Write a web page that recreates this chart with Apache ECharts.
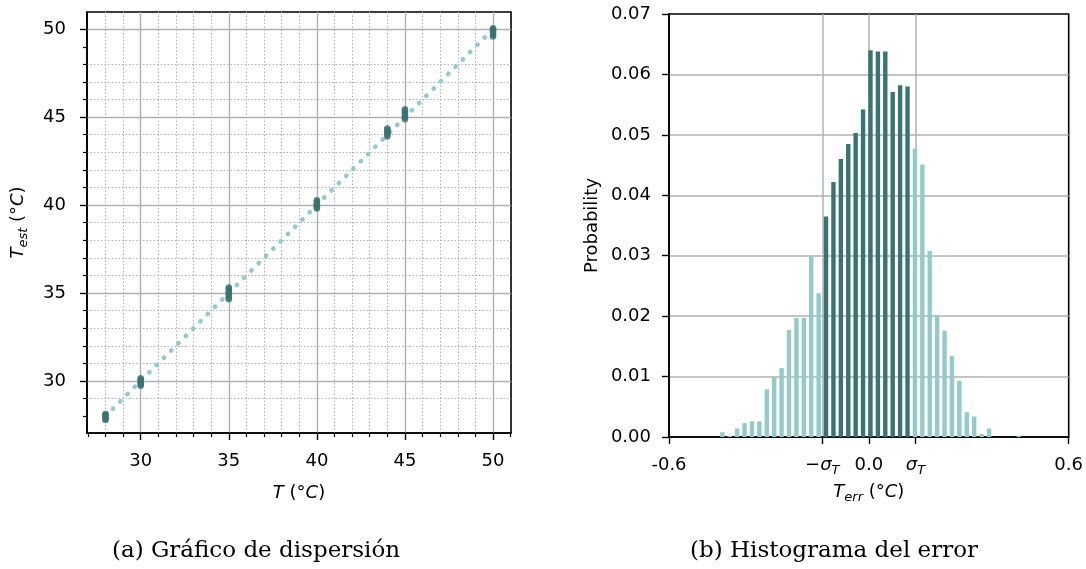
<!DOCTYPE html>
<html>
<head>
<meta charset="utf-8">
<script src="https://cdn.jsdelivr.net/npm/echarts@6/dist/echarts.min.js"></script>
<style>
  html, body { margin: 0; padding: 0; background: #ffffff; }
  #chart { width: 1086px; height: 569px; }
</style>
</head>
<body>
<div id="chart"></div>
<script>
// ---- (a) scatter: set temperature vs. estimated temperature ----
const setTemps = [28, 30, 35, 40, 44, 45, 50];
const estimates = [
  [27.78, 27.84, 27.90, 27.96, 28.02, 28.08, 28.12],
  [29.72, 29.80, 29.87, 29.94, 30.01, 30.08, 30.16],
  [34.65, 34.75, 34.85, 34.95, 35.05, 35.15, 35.24, 35.32],
  [39.80, 39.88, 39.96, 40.04, 40.12, 40.20, 40.28],
  [43.90, 43.98, 44.06, 44.14, 44.22, 44.30, 44.35],
  [44.88, 44.98, 45.08, 45.18, 45.28, 45.37, 45.45],
  [49.58, 49.67, 49.76, 49.85, 49.93, 50.00, 50.05]
];
const idealLine = [[28, 28], [50, 50]];
const tempRangeX = [26.95, 51.02];
const tempRangeY = [27.04, 50.98];
const tempMajorTicks = [30, 35, 40, 45, 50];
const tempMinorTicksX = [27, 28, 29, 31, 32, 33, 34, 36, 37, 38, 39, 41, 42, 43, 44, 46, 47, 48, 49, 51];
const tempMinorTicksY = [28, 29, 31, 32, 33, 34, 36, 37, 38, 39, 41, 42, 43, 44, 46, 47, 48, 49];

// ---- (b) histogram of the estimation error ----
const BIN_START = -0.4510;   // left edge of first bin (°C)
const BIN_WIDTH = 0.02224;   // bin width (°C)
const binProbability = [
  0.0008, 0.0002, 0.0014, 0.0023, 0.0026, 0.0026, 0.0079, 0.0099, 0.0114, 0.0177,
  0.0197, 0.0197, 0.0300, 0.0238, 0.0365, 0.0422, 0.0460, 0.0485, 0.0503, 0.0542,
  0.0640, 0.0638, 0.0638, 0.0571, 0.0582, 0.0580, 0.0477, 0.0451, 0.0308, 0.0202,
  0.0176, 0.0134, 0.0093, 0.0041, 0.0034, 0.0005, 0.0014, 0, 0, 0, 0.0002
];
const SIGMA = 0.1398;        // standard deviation of the error (°C)
const errRange = [-0.6, 0.6];
const errTicks = [-0.6, -SIGMA, 0, SIGMA, 0.6];
const probTicks = [0, 0.01, 0.02, 0.03, 0.04, 0.05, 0.06, 0.07];

const DARK = '#3b7272';
const LIGHT = '#94caca';
const GRID_GRAY = '#b0b0b0';
const SANS = 'DejaVu Sans';
const SERIF = 'DejaVu Serif';

const scatterPoints = [];
setTemps.forEach((t, i) => estimates[i].forEach(v => scatterPoints.push([t, v])));

const binEdges = binProbability.map((_, k) => [BIN_START + k * BIN_WIDTH, BIN_START + (k + 1) * BIN_WIDTH]);
const histData = binProbability.map((p, k) => [(binEdges[k][0] + binEdges[k][1]) / 2, p]);
const insideSigma = k => binEdges[k][0] >= -SIGMA - 1e-9 && binEdges[k][1] <= SIGMA + 1e-9;

const mathRich = {
  r:   { fontFamily: SANS, fontSize: 18, color: '#000', lineHeight: 24 },
  it:  { fontFamily: SANS, fontSize: 18, fontStyle: 'italic', color: '#000', lineHeight: 24 },
  sub: { fontFamily: SANS, fontSize: 13, fontStyle: 'italic', color: '#000', lineHeight: 14, verticalAlign: 'bottom' }
};

function errLabel(v) {
  if (Math.abs(v + SIGMA) < 1e-9) return '{r|−}{it|σ}{sub|T}';
  if (Math.abs(v - SIGMA) < 1e-9) return '{it|σ}{sub|T}';
  if (Math.abs(v) < 1e-9) return '{r|0.0}';
  return '{r|' + (v < 0 ? '-' : '') + Math.abs(v).toFixed(1) + '}';
}

const frame = { show: true, onZero: false, lineStyle: { color: '#000', width: 1.6 } };
const tickStyle = { color: '#000', width: 1.4 };

const option = {
  backgroundColor: '#ffffff',
  animation: false,
  grid: [
    { left: 87, top: 12, width: 424, height: 421, show: true, borderColor: '#000', borderWidth: 1.6, backgroundColor: 'transparent' },
    { left: 669, top: 14, width: 401, height: 423, show: true, borderColor: '#000', borderWidth: 1.6, backgroundColor: 'transparent' }
  ],
  xAxis: [
    { // (a) major
      type: 'value', gridIndex: 0, min: tempRangeX[0], max: tempRangeX[1], position: 'bottom',
      axisLine: frame,
      axisTick: { show: true, inside: false, length: 7, lineStyle: tickStyle, customValues: tempMajorTicks },
      axisLabel: { customValues: tempMajorTicks, fontFamily: SANS, fontSize: 18, color: '#000', margin: 19 },
      splitLine: { show: true, lineStyle: { color: GRID_GRAY, width: 1.4 } },
      name: '{it|T}{r| (°}{it|C}{r|)}', nameLocation: 'middle', nameGap: 48,
      nameTextStyle: { rich: mathRich }
    },
    { // (a) minor
      type: 'value', gridIndex: 0, min: tempRangeX[0], max: tempRangeX[1], position: 'bottom',
      axisLine: { show: false, onZero: false },
      axisTick: { show: true, inside: false, length: 4, lineStyle: { color: '#000', width: 1.2 }, customValues: tempMinorTicksX },
      axisLabel: { show: false },
      splitLine: { show: true, showMinLine: false, showMaxLine: false, lineStyle: { color: GRID_GRAY, width: 1, type: [1.5, 2] } }
    },
    { // (b)
      type: 'value', gridIndex: 1, min: errRange[0], max: errRange[1], position: 'bottom',
      axisLine: frame,
      axisTick: { show: true, inside: false, length: 7, lineStyle: tickStyle, customValues: errTicks },
      axisLabel: { customValues: errTicks, formatter: errLabel, rich: mathRich, margin: 16 },
      splitLine: { show: true, showMinLine: false, showMaxLine: false, lineStyle: { color: GRID_GRAY, width: 1.5 } },
      name: '{it|T}{sub|err}{r| (°}{it|C}{r|)}', nameLocation: 'middle', nameGap: 43,
      nameTextStyle: { rich: mathRich }
    }
  ],
  yAxis: [
    { // (a) major
      type: 'value', gridIndex: 0, min: tempRangeY[0], max: tempRangeY[1], position: 'left',
      axisLine: frame,
      axisTick: { show: true, inside: false, length: 7, lineStyle: tickStyle, customValues: tempMajorTicks },
      axisLabel: { customValues: tempMajorTicks, fontFamily: SANS, fontSize: 18, color: '#000', margin: 21 },
      splitLine: { show: true, lineStyle: { color: GRID_GRAY, width: 1.4 } },
      name: '{it|T}{sub|est}{r| (°}{it|C}{r|)}', nameLocation: 'middle', nameGap: 57,
      nameTextStyle: { rich: mathRich }
    },
    { // (a) minor
      type: 'value', gridIndex: 0, min: tempRangeY[0], max: tempRangeY[1], position: 'left',
      axisLine: { show: false, onZero: false },
      axisTick: { show: true, inside: false, length: 4, lineStyle: { color: '#000', width: 1.2 }, customValues: tempMinorTicksY },
      axisLabel: { show: false },
      splitLine: { show: true, showMinLine: false, showMaxLine: false, lineStyle: { color: GRID_GRAY, width: 1, type: [1.5, 2] } }
    },
    { // (b)
      type: 'value', gridIndex: 1, min: 0, max: 0.07, interval: 0.01, position: 'left',
      axisLine: frame,
      axisTick: { show: true, inside: false, length: 7, lineStyle: tickStyle, customValues: probTicks },
      axisLabel: { customValues: probTicks, formatter: v => v.toFixed(2), fontFamily: SANS, fontSize: 18, color: '#000', margin: 18 },
      splitLine: { show: true, showMinLine: false, showMaxLine: false, lineStyle: { color: GRID_GRAY, width: 1.5 } },
      name: 'Probability', nameLocation: 'middle', nameGap: 68,
      nameTextStyle: { fontFamily: SANS, fontSize: 18, color: '#000' }
    }
  ],
  series: [
    {
      type: 'line', xAxisIndex: 0, yAxisIndex: 0, data: idealLine, showSymbol: false, z: 2,
      lineStyle: { color: LIGHT, width: 4.5, type: [0.5, 9.8], cap: 'round' }
    },
    {
      type: 'scatter', xAxisIndex: 0, yAxisIndex: 0, data: scatterPoints, z: 3,
      symbol: 'circle', symbolSize: 6.5, itemStyle: { color: DARK }
    },
    {
      type: 'bar', xAxisIndex: 2, yAxisIndex: 2, data: histData, barWidth: 4.4, z: 2,
      itemStyle: { color: p => insideSigma(p.dataIndex) ? DARK : LIGHT }
    }
  ],
  graphic: [
    { type: 'text', style: { text: '(a) Gráfico de dispersión', fontFamily: SERIF, fontSize: 23, fill: '#000', x: 256, y: 551, align: 'center', verticalAlign: 'middle' } },
    { type: 'text', style: { text: '(b) Histograma del error', fontFamily: SERIF, fontSize: 23, fill: '#000', x: 834, y: 551, align: 'center', verticalAlign: 'middle' } }
  ]
};

const chart = echarts.init(document.getElementById('chart'), null, { renderer: 'canvas' });
chart.setOption(option);
</script>
</body>
</html>
